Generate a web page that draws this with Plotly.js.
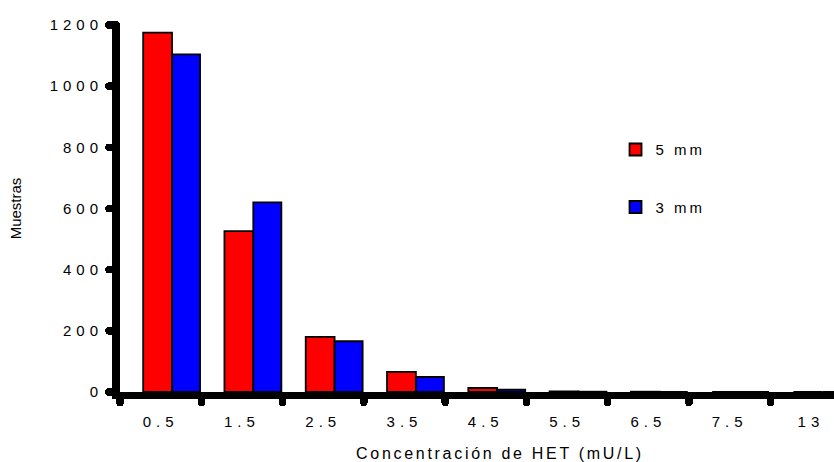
<!DOCTYPE html>
<html>
<head>
<meta charset="utf-8">
<script src="https://cdn.plot.ly/plotly-3.0.1.min.js"></script>
<style>
  html, body { margin: 0; padding: 0; overflow: hidden; background: #fff; width: 834px; height: 462px; }
  #chart { width: 880px; height: 462px; }
  .xtick text, .ytick text { letter-spacing: 5px; }
  .legendtext { letter-spacing: 3px; }
  .g-xtitle text { letter-spacing: 2.7px; }
  path.ticks { stroke-linecap: round; }
  path.ylines-above { stroke-linecap: round; }
</style>
</head>
<body>
<div id="chart"></div>
<script>
// Data
const categories = ['0.5', '1.5', '2.5', '3.5', '4.5', '5.5', '6.5', '7.5', '13'];
const series5mm = [1175, 526, 180, 66, 13, 2, 1, 0, 0];
const series3mm = [1104, 620, 166, 49, 8, 1, 0, 0, 0];
const seriesNames = ['5 mm', '3 mm'];
const yTicks = [0, 200, 400, 600, 800, 1000, 1200];

const font = 'Arial, "Liberation Sans", sans-serif';

const traces = [
  {
    type: 'bar', name: seriesNames[0], x: categories, y: series5mm,
    width: 0.355, offset: -0.215,
    marker: { color: '#ff0000', line: { color: '#000', width: 1.8 } },
    legendgroup: 'a'
  },
  {
    type: 'bar', name: seriesNames[1], x: categories, y: series3mm,
    width: 0.345, offset: 0.14,
    marker: { color: '#0000ff', line: { color: '#000', width: 1.8 } },
    legendgroup: 'b'
  }
];

const layout = {
  width: 880, height: 462,
  margin: { l: 120, r: 0, t: 25, b: 70 },
  paper_bgcolor: '#fff', plot_bgcolor: '#fff',
  font: { family: font, size: 15, color: '#000' },
  barmode: 'overlay',
  showlegend: true,
  legend: {
    x: 0.652, y: 0.705, xanchor: 'left', yanchor: 'top',
    traceorder: 'grouped', tracegroupgap: 35,
    font: { family: font, size: 15, color: '#000' },
    bgcolor: 'rgba(0,0,0,0)', itemwidth: 30
  },
  xaxis: {
    type: 'category', categoryorder: 'array', categoryarray: categories,
    range: [-0.5, 8.85],
    tickson: 'boundaries', ticks: 'outside', ticklen: 3.5, tickwidth: 7.5, tickcolor: '#000',
    ticklabelstandoff: 10,
    showline: true, linewidth: 7, linecolor: '#000',
    showgrid: false, zeroline: false,
    tickfont: { family: font, size: 15, color: '#000' },
    title: { text: 'Concentración de HET (mU/L)', font: { family: font, size: 16, color: '#000' }, standoff: 25 }
  },
  yaxis: {
    range: [0, 1200], tickvals: yTicks, ticktext: yTicks.map(String),
    ticks: 'outside', ticklen: 3, tickwidth: 7.5, tickcolor: '#000',
    ticklabelstandoff: 3,
    showline: true, linewidth: 8, linecolor: '#000',
    showgrid: false, zeroline: false,
    tickfont: { family: font, size: 15, color: '#000' },
    title: { text: 'Muestras', font: { family: font, size: 15, color: '#000' }, standoff: 27 }
  }
};

Plotly.newPlot('chart', traces, layout, { displayModeBar: false, staticPlot: true });
</script>
</body>
</html>
